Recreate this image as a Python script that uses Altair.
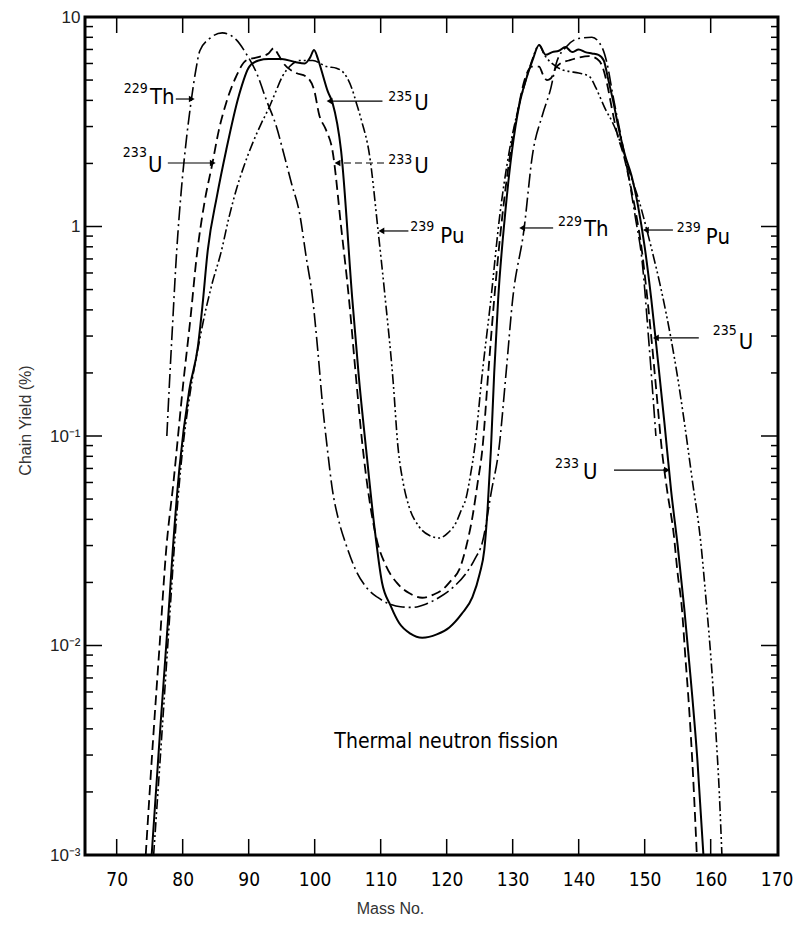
import altair as alt
import pandas as pd

# ---------------- data ----------------
u235_mass = [75.3, 76.6, 78.0, 78.5, 79.5, 81.0, 82.3, 83.0, 83.8, 85.2, 86.6, 88.5, 90.1, 91.5, 93.0, 95.0,
             97.0, 98.5, 99.3, 99.9, 100.5, 101.0, 102.0, 102.7, 104.0, 105.7, 106.7, 107.8, 109.0, 110.2,
             111.5, 112.8, 114.5, 116.3, 118.5, 120.4, 122.3, 123.9, 125.0, 125.7, 126.2, 126.7, 127.2,
             127.8, 128.8, 129.9, 131.0, 132.0, 133.0, 134.0, 135.0, 136.0, 137.0, 138.0, 139.0, 140.0,
             141.0, 142.0, 143.0, 143.8, 144.5, 145.2, 146.0, 147.0, 148.0, 149.0, 150.0, 151.0, 152.0,
             153.0, 154.0, 155.0, 156.0, 157.0, 158.0, 158.9]
u235_yield = [0.001, 0.004, 0.0166, 0.0286, 0.07, 0.166, 0.266, 0.42, 0.77, 1.4, 2.32, 4.2, 5.8, 6.2, 6.3, 6.3,
              6.1, 6.0, 6.4, 6.95, 6.3, 5.6, 4.4, 3.9, 2.3, 0.45, 0.19, 0.086, 0.038, 0.02,
              0.0155, 0.0128, 0.0114, 0.0109, 0.0113, 0.0122, 0.0142, 0.017, 0.022, 0.0286, 0.045, 0.086, 0.2,
              0.45, 1.1, 2.3, 3.8, 5.0, 6.2, 7.35, 6.6, 6.8, 6.9, 7.2, 6.8, 7.0,
              6.8, 6.7, 6.6, 6.2, 5.0, 4.0, 3.0, 2.2, 1.75, 1.25, 0.8, 0.45, 0.23,
              0.115, 0.055, 0.03, 0.015, 0.0068, 0.0028, 0.001]

u233_mass = [74.4, 75.5, 76.5, 77.5, 78.6, 80.1, 81.2, 82.1, 83.3, 84.5, 85.5, 86.6, 88.1, 89.6, 91.6, 93.0,
             93.8, 94.5, 95.3, 97.2, 98.7, 99.9, 100.7, 101.7, 102.7, 104.0, 105.2, 106.2, 107.2, 109.3,
             110.8, 112.4, 114.3, 116.3, 118.0, 119.3, 120.7, 121.9, 123.0, 123.9, 124.7, 125.4, 126.3,
             127.2, 128.4, 129.7, 130.8, 131.8, 132.9, 134.0, 134.6, 135.2, 135.8, 136.5, 137.2, 138.5,
             140.0, 141.6, 142.8, 143.6, 144.3, 145.0, 145.8, 146.8, 147.8, 148.8, 149.5, 150.2, 150.9,
             151.8, 152.6, 153.4, 154.4, 155.0, 155.6, 156.2, 156.7, 157.3, 157.9]
u233_yield = [0.001, 0.0035, 0.01, 0.0286, 0.06, 0.18, 0.37, 0.71, 1.3, 2.0, 2.9, 3.9, 5.2, 6.2, 6.45, 6.7,
              7.1, 6.6, 6.0, 5.4, 5.2, 4.5, 3.4, 2.9, 2.3, 1.0, 0.45, 0.2, 0.093, 0.033,
              0.024, 0.02, 0.0178, 0.0169, 0.0175, 0.0184, 0.0205, 0.023, 0.03, 0.041, 0.06, 0.086, 0.2,
              0.45, 1.1, 2.3, 3.6, 5.0, 5.8, 5.8, 5.3, 5.0, 5.1, 5.7, 6.0, 6.2,
              6.4, 6.5, 6.3, 5.8, 4.8, 3.7, 2.8, 2.2, 1.6, 1.1, 0.8, 0.52, 0.32,
              0.16, 0.086, 0.055, 0.034, 0.022, 0.0155, 0.0085, 0.0052, 0.0025, 0.001]

pu239_mass = [75.6, 76.9, 78.2, 78.7, 79.7, 81.2, 82.4, 83.1, 84.5, 85.8, 87.0, 88.1, 89.3, 90.6, 91.9, 93.1,
              94.1, 95.1, 96.2, 97.7, 99.7, 101.8, 103.3, 104.8, 105.7, 106.3, 107.1, 108.3, 109.6, 110.7,
              111.9, 112.6, 113.4, 114.3, 115.8, 117.4, 118.9, 120.2, 121.4, 122.3, 122.9, 123.6, 124.2,
              125.4, 126.7, 128.0, 129.5, 130.7, 132.0, 133.0, 134.0, 134.8, 135.7, 136.6, 137.5, 138.5,
              140.0, 141.6, 142.6, 143.3, 144.1, 145.0, 145.8, 146.7, 147.5, 148.3, 149.1, 150.3, 151.1,
              152.5, 154.0, 155.0, 155.9, 157.2, 158.5, 159.3, 160.1, 160.8, 161.3, 161.7]
pu239_yield = [0.001, 0.004, 0.0166, 0.0286, 0.07, 0.166, 0.27, 0.35, 0.54, 0.75, 1.1, 1.49, 1.95, 2.5, 3.1, 3.7,
               4.4, 5.2, 5.8, 6.2, 6.2, 5.8, 5.7, 5.2, 4.5, 3.9, 3.2, 2.2, 0.96, 0.45,
               0.18, 0.09, 0.06, 0.046, 0.037, 0.0335, 0.0326, 0.0345, 0.0385, 0.045, 0.05, 0.065, 0.086,
               0.2, 0.45, 1.1, 2.3, 3.5, 5.0, 6.3, 7.35, 6.6, 6.1, 5.8, 5.6, 5.5,
               5.4, 5.2, 4.6, 4.1, 3.6, 3.2, 2.8, 2.3, 1.9, 1.6, 1.34, 0.97, 0.77,
               0.5, 0.29, 0.19, 0.123, 0.062, 0.031, 0.0165, 0.0082, 0.0038, 0.002, 0.001]

th229_mass = [77.6, 78.0, 78.4, 79.1, 79.8, 80.6, 81.3, 82.0, 82.6, 84.1, 86.0, 88.1, 89.6, 91.2, 92.7, 94.2,
              95.2, 96.5, 97.7, 98.7, 99.7, 100.5, 101.2, 101.9, 102.7, 103.6, 104.8, 106.2, 107.8, 109.5,
              111.3, 113.0, 114.8, 116.9, 118.9, 121.0, 122.9, 124.3, 125.4, 126.8, 127.9, 129.0, 130.0,
              131.7, 133.0, 134.5, 135.8, 136.6, 138.1, 140.0, 142.0, 143.5, 144.3, 145.2, 146.4, 147.6,
              148.6, 149.6, 150.6, 151.7]
th229_yield = [0.10, 0.18, 0.31, 0.77, 1.5, 2.67, 4.0, 5.6, 6.9, 7.9, 8.4, 7.8, 6.7, 5.4, 4.0, 3.0,
               2.3, 1.6, 1.16, 0.72, 0.45, 0.25, 0.14, 0.088, 0.055, 0.04, 0.03, 0.023, 0.019, 0.017,
               0.0158, 0.0153, 0.0152, 0.0158, 0.017, 0.019, 0.022, 0.026, 0.031, 0.055, 0.086, 0.2, 0.45,
               0.96, 2.2, 3.4, 4.6, 6.0, 7.2, 7.9, 8.0, 7.2, 6.0, 4.2, 2.7, 1.7,
               1.1, 0.69, 0.29, 0.10]

x_tick_values = [70, 80, 90, 100, 110, 120, 130, 140, 150, 160, 170]
y_tick_values = [0.001, 0.01, 0.1, 1, 10]

# label annotations (data coordinates: mass number, chain yield)
label_numbers = ["229", "233", "235", "233", "239", "229", "239", "235", "233"]
label_elements = ["Th", "U", "U", "U", "Pu", "Th", "Pu", "U", "U"]
num_mass = [74.73, 74.58, 114.8, 114.8, 118.13, 140.51, 158.51, 163.95, 140.06]
num_yield = [4.53, 2.24, 4.15, 2.08, 0.995, 1.05, 0.984, 0.317, 0.0735]
el_mass = [75.03, 74.73, 115.1, 115.1, 119.04, 140.81, 159.27, 164.25, 140.66]
el_yield = [4.15, 1.97, 3.89, 1.94, 0.90, 0.973, 0.891, 0.281, 0.0673]

arrow_from = [78.96, 77.75, 110.27, 114.2, 136.13, 154.28, 158.2, 145.35]
arrow_to = [81.38, 84.56, 102.25, 110.11, 131.44, 150.19, 151.7, 153.37]
arrow_yield = [4.06, 2.01, 3.97, 0.952, 0.984, 0.962, 0.294, 0.0688]
arrow_dir = ["right", "right", "left", "left", "left", "left", "left", "right"]

dashed_arrow_from = [110.5]
dashed_arrow_to = [103.46]
dashed_arrow_yield = [2.01]

caption = "Thermal neutron fission"
caption_mass = 119.95
caption_yield = 0.00346

# ---------------- chart ----------------
W, H = 693, 838
xscale = alt.Scale(domain=[65.2, 170.2], nice=False, zero=False)
yscale = alt.Scale(type="log", domain=[0.001, 10], nice=False)

LABEL_FONT = "DejaVu Sans Condensed, Liberation Sans Narrow, Roboto, DejaVu Sans"

ylab = ("round(log(datum.value)/LN10) == 1 ? '10' : round(log(datum.value)/LN10) == 0 ? '1' : "
        "round(log(datum.value)/LN10) == -1 ? '10\u207b\u00b9' : round(log(datum.value)/LN10) == -2 ? "
        "'10\u207b\u00b2' : '10\u207b\u00b3'")

X_AXIS = alt.Axis(
    values=x_tick_values, title="Mass No.", domain=False, ticks=False, tickSize=0, grid=False,
    labelFont=LABEL_FONT, labelFontSize=19, labelPadding=15, labelColor="black",
    labelFlush=False, labelOverlap=False,
    titleX=305, titleY=53, titleAlign="center", titleBaseline="middle")
Y_AXIS = alt.Axis(
    values=y_tick_values, labelExpr=ylab, title="Chain Yield  (%)", domain=False, ticks=False,
    tickSize=0, grid=False, labelFont="Liberation Sans", labelFontSize=17, labelPadding=5,
    labelColor="#222222", labelFlush=False, labelOverlap=False,
    titleX=-60, titleY=403, titleAngle=270, titleAlign="center", titleBaseline="middle")


def X(field):
    return alt.X(field, scale=xscale, axis=X_AXIS, title="Mass No.")


def Y(field):
    return alt.Y(field, scale=yscale, axis=Y_AXIS, title="Chain Yield  (%)")


def sdf(m, y):
    return pd.DataFrame({"mass": m, "yield": y})


def curve(df, width, dash=None):
    kw = dict(color="black", strokeWidth=width, interpolate="monotone", clip=True)
    if dash is not None:
        kw["strokeDash"] = dash
    return alt.Chart(df).mark_line(**kw).encode(x=X("mass:Q"), y=Y("yield:Q"), order="mass:Q")


curves = [
    curve(sdf(u235_mass, u235_yield), 2.0),
    curve(sdf(u233_mass, u233_yield), 1.8, [10, 5]),
    curve(sdf(pu239_mass, pu239_yield), 1.6, [10, 3, 2, 3, 2, 3]),
    curve(sdf(th229_mass, th229_yield), 1.6, [14, 4, 2, 4]),
]

# tick marks drawn inside the frame
xt = pd.DataFrame({"mass": x_tick_values[:-1]})
tick_bottom = alt.Chart(xt).mark_rule(color="black", strokeWidth=1.5).encode(
    x=X("mass:Q"), y=alt.value(H), y2=alt.value(H - 16))
tick_top = alt.Chart(xt).mark_rule(color="black", strokeWidth=1.5).encode(
    x=X("mass:Q"), y=alt.value(0), y2=alt.value(16))

major = pd.DataFrame({"yield": [0.01, 0.1, 1]})
minor = pd.DataFrame({"yield": [k * d for d in [0.001, 0.01, 0.1, 1] for k in range(2, 10)]})


def yticks(df, x0, x1):
    return alt.Chart(df).mark_rule(color="black", strokeWidth=1.5).encode(
        y=Y("yield:Q"), x=alt.value(x0), x2=alt.value(x1))


ticks = [tick_bottom, tick_top,
         yticks(major, 0, 17), yticks(minor, 0, 8),
         yticks(major, W, W - 17), yticks(minor, W, W - 7)]

# annotations
nums = pd.DataFrame({"t": label_numbers, "mass": num_mass, "yield": num_yield})
els = pd.DataFrame({"t": label_elements, "mass": el_mass, "yield": el_yield})
num_text = alt.Chart(nums).mark_text(align="right", baseline="middle", fontSize=14,
                                     font=LABEL_FONT, color="black").encode(
    x=X("mass:Q"), y=Y("yield:Q"), text="t:N")
el_text = alt.Chart(els).mark_text(align="left", baseline="middle", fontSize=22,
                                   font=LABEL_FONT, color="black").encode(
    x=X("mass:Q"), y=Y("yield:Q"), text="t:N")

arr = pd.DataFrame({"mass": arrow_from, "m2": arrow_to, "yield": arrow_yield,
                    "shape": ["triangle-" + d for d in arrow_dir]})
arrow_lines = alt.Chart(arr).mark_rule(color="black", strokeWidth=1.2).encode(
    x=X("mass:Q"), x2="m2:Q", y=Y("yield:Q"))
arrow_heads = alt.Chart(arr).mark_point(filled=True, color="black", size=45, opacity=1).encode(
    x=X("m2:Q"), y=Y("yield:Q"), shape=alt.Shape("shape:N", scale=None))

darr = pd.DataFrame({"mass": dashed_arrow_from, "m2": dashed_arrow_to, "yield": dashed_arrow_yield,
                     "shape": ["triangle-left"]})
darrow_line = alt.Chart(darr).mark_rule(color="black", strokeWidth=1.2, strokeDash=[7, 4]).encode(
    x=X("mass:Q"), x2="m2:Q", y=Y("yield:Q"))
darrow_head = alt.Chart(darr).mark_point(filled=True, color="black", size=45, opacity=1).encode(
    x=X("m2:Q"), y=Y("yield:Q"), shape=alt.Shape("shape:N", scale=None))

cap = alt.Chart(pd.DataFrame({"t": [caption], "mass": [caption_mass], "yield": [caption_yield]})).mark_text(
    align="center", baseline="middle", fontSize=21, font=LABEL_FONT, color="black"
).encode(x=X("mass:Q"), y=Y("yield:Q"), text="t:N")

chart = alt.layer(
    *curves, *ticks, arrow_lines, arrow_heads, darrow_line, darrow_head,
    num_text, el_text, cap
).properties(
    width=W, height=H,
    padding={"left": 77, "top": 9, "right": 16, "bottom": 80},
    autosize=alt.AutoSizeParams(type="none"),
    background="white",
).configure_view(
    stroke="black", strokeWidth=3
).configure_axis(
    titleFont="Liberation Sans", titleFontSize=16, titleFontWeight="normal", titleColor="#333333"
)

chart.save("out.html", embed_options={"renderer": "svg", "actions": False})
